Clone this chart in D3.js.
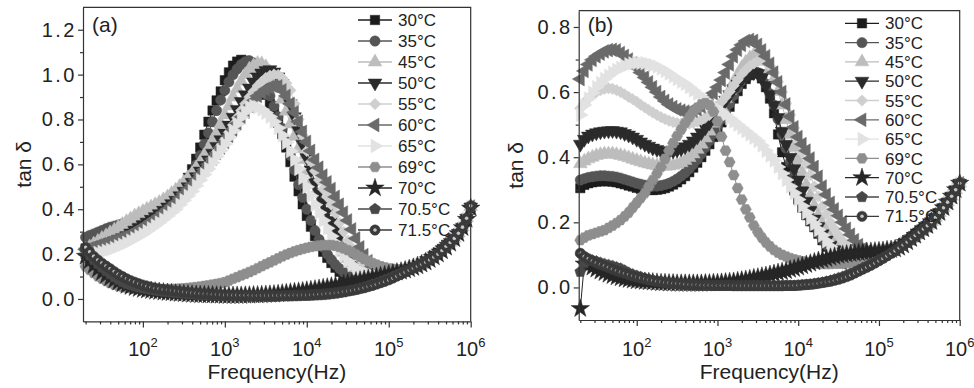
<!DOCTYPE html>
<html>
<head>
<meta charset="utf-8">
<script src="https://cdn.jsdelivr.net/npm/d3@7"></script>
<style>
  body { margin: 0; background: #fff; }
  text { font-family: "Liberation Sans", Arial, sans-serif; fill: #222; }
</style>
</head>
<body>
<svg id="chart" width="974" height="388"></svg>
<script>
// measurement frequencies (Hz), shared by every curve
const freq = [20.0, 22.4, 25.1, 28.2, 31.6, 35.5, 39.8, 44.7, 50.1, 56.2, 63.1, 70.8, 79.4, 89.1,
  100, 112, 126, 141, 158, 178, 200, 224, 251, 282, 316, 355, 398, 447, 501, 562, 631, 708, 794, 891,
  1000, 1122, 1259, 1413, 1585, 1778, 1995, 2239, 2512, 2818, 3162, 3548, 3981, 4467, 5012, 5623, 6310, 7079, 7943, 8913,
  10000, 11220, 12590, 14130, 15850, 17780, 19950, 22390, 25120, 28180, 31620, 35480, 39810, 44670, 50120, 56230, 63100, 70790, 79430, 89130,
  100000, 112200, 125900, 141300, 158500, 177800, 199500, 223900, 251200, 281800, 316200, 354800, 398100, 446700, 501200, 562300, 631000, 707900, 794300, 891300,
  1000000];

const temps = ['30°C', '35°C', '45°C', '50°C', '55°C', '60°C', '65°C', '69°C', '70°C', '70.5°C', '71.5°C'];

// panel (a)
const a30 = [0.225,0.232,0.240,0.248,0.256,0.264,0.272,0.281,0.290,0.300,
  0.310,0.320,0.331,0.342,0.353,0.364,0.376,0.388,0.400,0.413,
  0.427,0.443,0.460,0.482,0.508,0.540,0.578,0.625,0.675,0.732,
  0.790,0.840,0.885,0.925,0.975,1.010,1.040,1.058,1.066,1.062,
  1.050,1.025,0.990,0.950,0.910,0.870,0.830,0.785,0.735,0.675,
  0.610,0.545,0.480,0.422,0.370,0.322,0.280,0.243,0.210,0.183,
  0.160,0.139,0.121,0.107,0.096,0.087,0.080,0.075,0.072,0.071,
  0.072,0.076,0.082,0.090,0.097,0.107,0.115,0.122,0.130,0.137,
  0.145,0.152,0.160,0.170,0.180,0.192,0.205,0.220,0.235,0.252,
  0.270,0.293,0.320,0.360,0.410];
const a35 = [0.275,0.283,0.290,0.298,0.305,0.313,0.320,0.325,0.330,0.335,
  0.340,0.345,0.350,0.355,0.360,0.367,0.375,0.385,0.395,0.407,
  0.420,0.437,0.455,0.477,0.500,0.528,0.560,0.598,0.640,0.690,
  0.740,0.790,0.840,0.887,0.930,0.968,1.000,1.025,1.045,1.058,
  1.062,1.052,1.028,0.992,0.950,0.905,0.860,0.812,0.760,0.702,
  0.640,0.575,0.510,0.453,0.400,0.350,0.305,0.265,0.230,0.200,
  0.175,0.153,0.135,0.119,0.105,0.095,0.088,0.083,0.080,0.079,
  0.080,0.083,0.087,0.092,0.098,0.107,0.115,0.122,0.130,0.137,
  0.145,0.152,0.160,0.170,0.180,0.192,0.205,0.220,0.235,0.252,
  0.270,0.293,0.320,0.360,0.410];
const a45 = [0.220,0.232,0.245,0.257,0.270,0.282,0.295,0.307,0.320,0.332,
  0.345,0.357,0.370,0.380,0.390,0.400,0.410,0.420,0.430,0.442,
  0.455,0.470,0.485,0.502,0.520,0.540,0.560,0.585,0.610,0.640,
  0.670,0.705,0.740,0.780,0.820,0.860,0.900,0.937,0.970,1.000,
  1.025,1.040,1.050,1.048,1.035,1.012,0.980,0.938,0.890,0.837,
  0.780,0.725,0.670,0.620,0.570,0.520,0.470,0.430,0.390,0.350,
  0.310,0.275,0.240,0.208,0.180,0.158,0.140,0.126,0.115,0.109,
  0.105,0.104,0.105,0.106,0.108,0.111,0.117,0.124,0.131,0.138,
  0.146,0.153,0.161,0.171,0.181,0.193,0.206,0.221,0.236,0.253,
  0.271,0.294,0.321,0.361,0.412];
const a50 = [0.210,0.217,0.224,0.231,0.238,0.245,0.252,0.259,0.266,0.273,
  0.280,0.292,0.305,0.317,0.330,0.342,0.355,0.367,0.380,0.395,
  0.410,0.425,0.440,0.460,0.480,0.500,0.520,0.545,0.570,0.595,
  0.620,0.650,0.680,0.710,0.740,0.775,0.810,0.845,0.880,0.910,
  0.940,0.967,0.990,1.007,1.018,1.022,1.012,0.990,0.960,0.920,
  0.870,0.812,0.750,0.690,0.630,0.575,0.520,0.475,0.430,0.390,
  0.350,0.315,0.280,0.245,0.210,0.183,0.160,0.143,0.130,0.119,
  0.110,0.106,0.104,0.103,0.104,0.108,0.115,0.122,0.130,0.137,
  0.145,0.152,0.160,0.170,0.180,0.192,0.205,0.220,0.235,0.252,
  0.270,0.293,0.320,0.360,0.410];
const a55 = [0.200,0.207,0.214,0.221,0.228,0.235,0.242,0.249,0.256,0.263,
  0.270,0.280,0.290,0.300,0.310,0.322,0.335,0.347,0.360,0.375,
  0.390,0.405,0.420,0.440,0.460,0.480,0.500,0.525,0.550,0.575,
  0.600,0.627,0.655,0.682,0.710,0.742,0.775,0.808,0.840,0.870,
  0.900,0.925,0.950,0.968,0.985,0.995,1.000,0.998,0.985,0.962,
  0.930,0.870,0.800,0.728,0.660,0.612,0.570,0.530,0.490,0.455,
  0.420,0.382,0.340,0.300,0.260,0.228,0.200,0.176,0.155,0.138,
  0.125,0.116,0.110,0.108,0.107,0.110,0.116,0.123,0.131,0.138,
  0.146,0.153,0.161,0.171,0.181,0.193,0.206,0.221,0.236,0.253,
  0.271,0.294,0.321,0.361,0.412];
const a60 = [0.220,0.226,0.232,0.238,0.244,0.250,0.256,0.262,0.268,0.274,
  0.280,0.290,0.300,0.310,0.320,0.332,0.345,0.357,0.370,0.385,
  0.400,0.415,0.430,0.450,0.470,0.490,0.510,0.532,0.555,0.577,
  0.600,0.625,0.650,0.675,0.700,0.727,0.755,0.782,0.810,0.835,
  0.860,0.883,0.905,0.920,0.935,0.944,0.950,0.948,0.930,0.905,
  0.870,0.832,0.790,0.745,0.700,0.660,0.620,0.585,0.550,0.520,
  0.490,0.455,0.420,0.385,0.350,0.310,0.270,0.230,0.195,0.168,
  0.145,0.130,0.120,0.114,0.110,0.112,0.117,0.124,0.132,0.139,
  0.146,0.153,0.161,0.171,0.181,0.193,0.206,0.221,0.236,0.253,
  0.271,0.294,0.321,0.361,0.412];
const a65 = [0.190,0.195,0.200,0.205,0.210,0.215,0.220,0.227,0.235,0.242,
  0.250,0.260,0.270,0.280,0.290,0.302,0.315,0.327,0.340,0.355,
  0.370,0.385,0.400,0.420,0.440,0.460,0.480,0.505,0.530,0.555,
  0.580,0.607,0.635,0.662,0.690,0.720,0.750,0.780,0.810,0.835,
  0.855,0.860,0.855,0.845,0.830,0.812,0.790,0.762,0.730,0.697,
  0.660,0.620,0.580,0.540,0.500,0.460,0.420,0.385,0.350,0.315,
  0.280,0.250,0.220,0.195,0.170,0.152,0.135,0.125,0.115,0.110,
  0.105,0.103,0.102,0.102,0.103,0.107,0.115,0.122,0.130,0.137,
  0.145,0.152,0.160,0.170,0.180,0.192,0.205,0.220,0.235,0.252,
  0.270,0.293,0.320,0.360,0.410];
const a69 = [0.145,0.130,0.115,0.101,0.090,0.080,0.071,0.064,0.058,0.054,
  0.050,0.048,0.046,0.045,0.044,0.044,0.043,0.043,0.043,0.043,
  0.044,0.044,0.045,0.046,0.047,0.049,0.051,0.053,0.055,0.058,
  0.061,0.064,0.067,0.071,0.075,0.082,0.090,0.097,0.105,0.112,
  0.120,0.128,0.137,0.146,0.155,0.163,0.172,0.181,0.190,0.198,
  0.205,0.212,0.218,0.223,0.228,0.232,0.235,0.238,0.240,0.240,
  0.240,0.237,0.232,0.225,0.218,0.208,0.198,0.188,0.178,0.169,
  0.160,0.153,0.146,0.141,0.137,0.134,0.132,0.131,0.132,0.134,
  0.138,0.143,0.150,0.159,0.170,0.182,0.196,0.211,0.228,0.246,
  0.266,0.290,0.318,0.355,0.405];
const a70 = [0.190,0.170,0.150,0.133,0.118,0.105,0.094,0.084,0.075,0.067,
  0.060,0.055,0.050,0.046,0.042,0.039,0.037,0.034,0.032,0.030,
  0.028,0.027,0.025,0.024,0.023,0.021,0.020,0.019,0.018,0.018,
  0.017,0.017,0.016,0.016,0.015,0.015,0.015,0.015,0.015,0.016,
  0.016,0.017,0.017,0.018,0.019,0.020,0.021,0.023,0.025,0.027,
  0.029,0.031,0.033,0.035,0.038,0.040,0.043,0.046,0.049,0.052,
  0.056,0.059,0.063,0.067,0.071,0.075,0.079,0.083,0.087,0.091,
  0.095,0.099,0.103,0.107,0.111,0.115,0.119,0.123,0.128,0.134,
  0.140,0.147,0.155,0.164,0.175,0.187,0.200,0.214,0.230,0.248,
  0.268,0.291,0.318,0.355,0.405];
const a705 = [0.215,0.195,0.175,0.157,0.140,0.124,0.110,0.097,0.086,0.076,
  0.068,0.062,0.056,0.051,0.047,0.044,0.041,0.038,0.035,0.033,
  0.031,0.029,0.027,0.025,0.024,0.022,0.021,0.020,0.019,0.018,
  0.017,0.016,0.015,0.015,0.014,0.013,0.013,0.012,0.012,0.012,
  0.011,0.011,0.011,0.011,0.011,0.011,0.011,0.011,0.012,0.012,
  0.012,0.013,0.013,0.014,0.014,0.015,0.016,0.017,0.018,0.020,
  0.022,0.024,0.027,0.030,0.034,0.038,0.042,0.047,0.052,0.058,
  0.064,0.070,0.077,0.084,0.091,0.099,0.107,0.115,0.123,0.131,
  0.139,0.148,0.157,0.167,0.178,0.190,0.203,0.217,0.233,0.250,
  0.270,0.293,0.320,0.358,0.410];
const a715 = [0.230,0.210,0.190,0.174,0.160,0.147,0.135,0.122,0.110,0.100,
  0.090,0.082,0.075,0.068,0.062,0.057,0.052,0.048,0.045,0.042,
  0.040,0.037,0.035,0.033,0.031,0.029,0.027,0.026,0.024,0.023,
  0.022,0.021,0.020,0.019,0.018,0.018,0.017,0.017,0.016,0.016,
  0.016,0.015,0.015,0.015,0.015,0.015,0.015,0.015,0.016,0.016,
  0.016,0.017,0.017,0.018,0.018,0.019,0.020,0.021,0.022,0.024,
  0.026,0.028,0.030,0.033,0.036,0.039,0.042,0.046,0.050,0.055,
  0.060,0.066,0.072,0.078,0.085,0.093,0.102,0.111,0.120,0.129,
  0.138,0.147,0.156,0.165,0.175,0.187,0.200,0.216,0.235,0.252,
  0.270,0.293,0.320,0.360,0.415];

// panel (b)
const b30 = [0.305,0.315,0.320,0.323,0.325,0.326,0.326,0.326,0.325,0.323,
  0.320,0.317,0.313,0.310,0.306,0.303,0.301,0.300,0.299,0.300,
  0.302,0.305,0.310,0.316,0.323,0.332,0.342,0.354,0.368,0.383,
  0.400,0.420,0.440,0.462,0.485,0.507,0.530,0.555,0.580,0.603,
  0.625,0.640,0.652,0.660,0.657,0.642,0.615,0.580,0.535,0.470,
  0.415,0.370,0.332,0.298,0.270,0.245,0.222,0.203,0.185,0.165,
  0.145,0.125,0.107,0.093,0.082,0.076,0.072,0.069,0.068,0.069,
  0.072,0.076,0.082,0.088,0.095,0.105,0.110,0.115,0.120,0.127,
  0.135,0.142,0.150,0.160,0.170,0.180,0.190,0.202,0.215,0.230,
  0.245,0.262,0.280,0.300,0.320];
const b35 = [0.330,0.334,0.338,0.340,0.342,0.343,0.343,0.342,0.341,0.339,
  0.336,0.332,0.328,0.324,0.320,0.317,0.314,0.312,0.311,0.311,
  0.313,0.316,0.320,0.326,0.333,0.342,0.352,0.364,0.378,0.393,
  0.410,0.430,0.450,0.472,0.495,0.517,0.540,0.565,0.590,0.613,
  0.635,0.650,0.660,0.665,0.660,0.647,0.625,0.595,0.560,0.517,
  0.470,0.427,0.385,0.346,0.310,0.276,0.245,0.217,0.190,0.168,
  0.148,0.130,0.115,0.102,0.092,0.084,0.078,0.074,0.072,0.072,
  0.074,0.078,0.083,0.089,0.095,0.105,0.110,0.115,0.120,0.127,
  0.135,0.142,0.150,0.160,0.170,0.180,0.190,0.202,0.215,0.230,
  0.245,0.262,0.280,0.300,0.320];
const b45 = [0.380,0.388,0.395,0.400,0.405,0.408,0.410,0.410,0.410,0.408,
  0.405,0.402,0.398,0.394,0.390,0.386,0.382,0.379,0.376,0.374,
  0.373,0.372,0.373,0.375,0.378,0.383,0.390,0.399,0.410,0.424,
  0.440,0.459,0.480,0.504,0.530,0.555,0.580,0.605,0.630,0.653,
  0.675,0.692,0.705,0.714,0.718,0.712,0.695,0.670,0.640,0.602,
  0.560,0.515,0.470,0.430,0.390,0.352,0.315,0.282,0.250,0.222,
  0.195,0.172,0.152,0.135,0.120,0.108,0.098,0.091,0.085,0.082,
  0.080,0.081,0.084,0.089,0.095,0.105,0.110,0.115,0.120,0.127,
  0.135,0.142,0.150,0.160,0.170,0.180,0.190,0.202,0.215,0.230,
  0.245,0.262,0.280,0.300,0.320];
const b50 = [0.440,0.455,0.465,0.471,0.475,0.478,0.480,0.481,0.482,0.480,
  0.478,0.473,0.468,0.462,0.455,0.447,0.440,0.434,0.428,0.424,
  0.420,0.418,0.418,0.419,0.422,0.426,0.432,0.440,0.450,0.462,
  0.475,0.490,0.505,0.522,0.540,0.557,0.575,0.592,0.610,0.625,
  0.640,0.649,0.655,0.660,0.657,0.645,0.620,0.592,0.560,0.522,
  0.480,0.440,0.400,0.365,0.330,0.297,0.265,0.237,0.210,0.187,
  0.165,0.146,0.130,0.116,0.105,0.096,0.088,0.083,0.080,0.079,
  0.079,0.081,0.085,0.090,0.095,0.105,0.110,0.115,0.120,0.127,
  0.135,0.142,0.150,0.160,0.170,0.180,0.190,0.202,0.215,0.230,
  0.245,0.262,0.280,0.300,0.320];
const b55 = [0.550,0.566,0.580,0.591,0.600,0.606,0.610,0.612,0.610,0.606,
  0.600,0.593,0.585,0.578,0.570,0.561,0.553,0.545,0.537,0.530,
  0.523,0.517,0.512,0.508,0.505,0.503,0.502,0.503,0.505,0.509,
  0.515,0.522,0.530,0.542,0.555,0.570,0.585,0.602,0.620,0.638,
  0.655,0.668,0.680,0.688,0.695,0.698,0.692,0.680,0.660,0.632,
  0.600,0.565,0.530,0.490,0.450,0.415,0.380,0.345,0.310,0.280,
  0.250,0.225,0.200,0.180,0.160,0.143,0.128,0.116,0.105,0.098,
  0.092,0.090,0.090,0.092,0.096,0.105,0.110,0.115,0.120,0.127,
  0.135,0.142,0.150,0.160,0.170,0.180,0.190,0.202,0.215,0.230,
  0.245,0.262,0.280,0.300,0.320];
const b60 = [0.640,0.665,0.685,0.699,0.710,0.718,0.725,0.729,0.730,0.728,
  0.720,0.711,0.700,0.688,0.675,0.660,0.645,0.630,0.615,0.600,
  0.585,0.573,0.562,0.554,0.547,0.543,0.540,0.540,0.543,0.548,
  0.556,0.567,0.580,0.597,0.615,0.637,0.660,0.685,0.710,0.730,
  0.745,0.757,0.760,0.757,0.745,0.728,0.710,0.687,0.660,0.630,
  0.600,0.562,0.525,0.492,0.462,0.440,0.420,0.396,0.370,0.340,
  0.310,0.285,0.260,0.240,0.220,0.200,0.180,0.162,0.145,0.130,
  0.118,0.110,0.104,0.101,0.100,0.105,0.110,0.115,0.120,0.127,
  0.135,0.142,0.150,0.160,0.170,0.180,0.190,0.202,0.215,0.230,
  0.245,0.262,0.280,0.300,0.320];
const b65 = [0.530,0.560,0.580,0.598,0.615,0.628,0.640,0.650,0.660,0.668,
  0.675,0.680,0.685,0.688,0.690,0.690,0.689,0.686,0.683,0.678,
  0.672,0.665,0.657,0.648,0.640,0.632,0.625,0.615,0.605,0.595,
  0.585,0.575,0.565,0.556,0.548,0.539,0.530,0.520,0.510,0.500,
  0.490,0.480,0.470,0.460,0.450,0.436,0.420,0.405,0.390,0.370,
  0.350,0.330,0.310,0.290,0.270,0.250,0.230,0.212,0.195,0.177,
  0.160,0.142,0.125,0.109,0.095,0.086,0.078,0.074,0.072,0.071,
  0.072,0.075,0.080,0.086,0.092,0.100,0.107,0.113,0.119,0.126,
  0.135,0.142,0.150,0.160,0.170,0.180,0.190,0.202,0.215,0.230,
  0.245,0.262,0.280,0.300,0.320];
const b69 = [0.145,0.153,0.160,0.164,0.168,0.172,0.176,0.183,0.190,0.198,
  0.207,0.218,0.230,0.245,0.260,0.275,0.290,0.310,0.330,0.350,
  0.370,0.395,0.420,0.443,0.465,0.485,0.505,0.523,0.540,0.552,
  0.562,0.566,0.560,0.540,0.510,0.463,0.420,0.385,0.345,0.305,
  0.270,0.240,0.215,0.190,0.170,0.153,0.138,0.126,0.115,0.107,
  0.100,0.095,0.090,0.086,0.083,0.080,0.078,0.076,0.074,0.073,
  0.072,0.072,0.072,0.073,0.073,0.074,0.075,0.077,0.078,0.080,
  0.082,0.085,0.088,0.091,0.095,0.102,0.108,0.114,0.120,0.127,
  0.135,0.142,0.150,0.160,0.170,0.180,0.190,0.202,0.215,0.230,
  0.245,0.262,0.280,0.300,0.320];
const b70 = [-0.065,0.072,0.068,0.062,0.056,0.050,0.045,0.040,0.036,0.032,
  0.029,0.026,0.024,0.022,0.020,0.019,0.018,0.017,0.016,0.015,
  0.014,0.014,0.013,0.013,0.012,0.012,0.012,0.012,0.012,0.012,
  0.012,0.013,0.013,0.014,0.014,0.015,0.016,0.017,0.018,0.020,
  0.022,0.024,0.026,0.029,0.031,0.034,0.036,0.039,0.042,0.045,
  0.048,0.051,0.055,0.058,0.062,0.066,0.070,0.074,0.078,0.082,
  0.085,0.088,0.092,0.095,0.098,0.100,0.102,0.104,0.105,0.107,
  0.108,0.109,0.110,0.111,0.112,0.113,0.115,0.116,0.118,0.123,
  0.130,0.140,0.150,0.160,0.170,0.180,0.190,0.202,0.215,0.230,
  0.245,0.262,0.280,0.300,0.320];
const b705 = [0.048,0.075,0.085,0.083,0.080,0.076,0.072,0.069,0.066,0.062,
  0.058,0.052,0.045,0.040,0.036,0.032,0.028,0.025,0.022,0.019,
  0.017,0.015,0.013,0.011,0.010,0.009,0.008,0.007,0.007,0.006,
  0.006,0.006,0.005,0.005,0.005,0.005,0.005,0.005,0.005,0.005,
  0.005,0.005,0.005,0.005,0.005,0.005,0.005,0.005,0.005,0.005,
  0.005,0.005,0.005,0.005,0.006,0.007,0.008,0.009,0.011,0.013,
  0.015,0.018,0.021,0.025,0.029,0.033,0.038,0.043,0.048,0.054,
  0.060,0.066,0.072,0.078,0.085,0.091,0.098,0.105,0.112,0.120,
  0.128,0.137,0.146,0.156,0.166,0.177,0.188,0.200,0.213,0.228,
  0.244,0.261,0.280,0.300,0.322];
const b715 = [0.105,0.095,0.088,0.081,0.075,0.070,0.066,0.061,0.056,0.051,
  0.047,0.043,0.039,0.035,0.032,0.029,0.026,0.023,0.021,0.019,
  0.017,0.015,0.014,0.013,0.012,0.011,0.010,0.009,0.008,0.008,
  0.007,0.007,0.007,0.006,0.006,0.006,0.006,0.006,0.005,0.005,
  0.005,0.005,0.005,0.005,0.005,0.005,0.005,0.005,0.005,0.005,
  0.005,0.006,0.006,0.006,0.007,0.008,0.009,0.010,0.011,0.013,
  0.015,0.017,0.019,0.022,0.025,0.029,0.033,0.038,0.044,0.050,
  0.056,0.062,0.068,0.075,0.082,0.089,0.097,0.105,0.113,0.122,
  0.131,0.140,0.150,0.160,0.170,0.180,0.190,0.202,0.215,0.230,
  0.245,0.262,0.280,0.300,0.320];

const yTicksA = [0, 0.2, 0.4, 0.6, 0.8, 1.0, 1.2];
const yTicksB = [0, 0.2, 0.4, 0.6, 0.8];
const xTicks = [1e2, 1e3, 1e4, 1e5, 1e6];

// styling per temperature (same order as temps)
const colors = ['#1c1c1c', '#555555', '#bdbdbd', '#2b2b2b', '#cfcfcf', '#6a6a6a', '#e2e2e2', '#8e8e8e', '#262626', '#474747', '#3a3a3a'];
const shapes = ['square', 'circle', 'up', 'down', 'diamond', 'left', 'right', 'hexagon', 'star', 'pentagon', 'sphere'];

const panels = [
  { tag: '(a)', series: [a30, a35, a45, a50, a55, a60, a65, a69, a70, a705, a715],
    left: 83, right: 470.7, top: 7.3, bottom: 321.4, xDom: [18.6, 1e6], yDom: [-0.1, 1.3], yTicks: yTicksA,
    legendX: 358, legendY: 20, legendDy: 21, yTitleX: 24 },
  { tag: '(b)', series: [b30, b35, b45, b50, b55, b60, b65, b69, b70, b705, b715],
    left: 578.7, right: 959.7, top: 10.7, bottom: 320, xDom: [19.1, 1e6], yDom: [-0.1, 0.85], yTicks: yTicksB,
    legendX: 845, legendY: 23.3, legendDy: 19.3, yTitleX: 516 }
];

const svg = d3.select('#chart');

function poly(n, r, startDeg) {
  const pts = d3.range(n).map(i => {
    const a = (startDeg + i * 360 / n) * Math.PI / 180;
    return [r * Math.cos(a), r * Math.sin(a)];
  });
  return 'M' + pts.map(p => p.join(',')).join('L') + 'Z';
}

function symbolPath(shape) {
  switch (shape) {
    case 'square': return d3.symbol(d3.symbolSquare, 88)();
    case 'circle':
    case 'sphere': return d3.symbol(d3.symbolCircle, 84)();
    case 'diamond': return d3.symbol(d3.symbolSquare, 66)();
    case 'star': return d3.symbol(d3.symbolStar, 105)();
    case 'hexagon': return poly(6, 5.6, 0);
    case 'pentagon': return poly(5, 5.8, -90);
    default: return d3.symbol(d3.symbolTriangle, 82)();
  }
}
const rotation = { down: 180, left: -90, right: 90, diamond: 45 };

function drawMarker(g, shape, color, x, y) {
  g.append('path')
    .attr('d', symbolPath(shape))
    .attr('transform', `translate(${x},${y}) rotate(${rotation[shape] || 0})`)
    .attr('fill', color)
    .attr('stroke', color)
    .attr('stroke-width', 0.5);
  if (shape === 'sphere') {
    g.append('circle').attr('cx', x).attr('cy', y).attr('r', 1.8).attr('fill', '#c4c4c4');
  }
}

panels.forEach(p => {
  const x = d3.scaleLog().domain(p.xDom).range([p.left, p.right]);
  const y = d3.scaleLinear().domain(p.yDom).range([p.bottom, p.top]);
  const g = svg.append('g');

  // curves
  p.series.forEach((vals, k) => {
    const pts = d3.zip(freq, vals);
    const sg = g.append('g');
    sg.append('path')
      .datum(pts)
      .attr('fill', 'none')
      .attr('stroke', colors[k])
      .attr('stroke-width', 1)
      .attr('d', d3.line().x(d => x(d[0])).y(d => y(d[1])));
    pts.forEach(d => drawMarker(sg, shapes[k], colors[k], x(d[0]), y(d[1])));
  });

  // frame
  g.append('path')
    .attr('d', `M${p.left},${p.top}H${p.right}V${p.bottom}`)
    .attr('fill', 'none').attr('stroke', '#333').attr('stroke-width', 1.2);

  // x axis
  const minors = [];
  [10, 100, 1000, 10000, 100000].forEach(dec => {
    for (let m = 2; m <= 9; m++) if (dec * m >= p.xDom[0]) minors.push(dec * m);
  });
  const xa = g.append('g').attr('transform', `translate(0,${p.bottom})`);
  xa.call(d3.axisBottom(x).tickValues(xTicks).tickSize(6).tickSizeOuter(0).tickFormat(''));
  xa.append('g').call(d3.axisBottom(x).tickValues(minors).tickSize(3).tickFormat(''))
    .select('.domain').remove();
  xa.selectAll('path, line').attr('stroke', '#333').attr('stroke-width', 1.2);
  xTicks.forEach(v => {
    const t = g.append('text')
      .attr('x', x(v)).attr('y', 356)
      .attr('text-anchor', 'middle')
      .attr('font-size', 20);
    t.append('tspan').text('10');
    t.append('tspan').attr('dy', -9).attr('font-size', 13).text(Math.round(Math.log10(v)));
  });

  // y axis
  const yMinor = p.yTicks.map(v => v + 0.1).filter(v => v < p.yDom[1]);
  const ya = g.append('g').attr('transform', `translate(${p.left},0)`);
  ya.call(d3.axisLeft(y).tickValues(p.yTicks).tickSize(5).tickSizeOuter(0).tickPadding(1).tickFormat(d3.format('.1f')));
  ya.append('g').call(d3.axisLeft(y).tickValues(yMinor).tickSize(3).tickFormat(''))
    .select('.domain').remove();
  ya.selectAll('path, line').attr('stroke', '#333').attr('stroke-width', 1.2);
  ya.selectAll('text')
    .attr('font-size', 20)
    .attr('letter-spacing', 2.5)
    .attr('font-family', '"Liberation Sans", Arial, sans-serif')
    .attr('fill', '#222');

  // titles
  g.append('text')
    .attr('x', (p.left + p.right) / 2).attr('y', 379)
    .attr('text-anchor', 'middle').attr('font-size', 21)
    .text('Frequency(Hz)');
  g.append('text')
    .attr('transform', `translate(${p.yTitleX},${(p.top + p.bottom) / 2}) rotate(-90)`)
    .attr('text-anchor', 'middle').attr('dy', '0.35em').attr('font-size', 21)
    .text('tan δ');
  g.append('text')
    .attr('x', p.left + 9).attr('y', 32)
    .attr('font-size', 21)
    .text(p.tag);

  // legend
  temps.forEach((name, k) => {
    const ly = p.legendY + k * p.legendDy;
    const lg = g.append('g');
    lg.append('line')
      .attr('x1', p.legendX).attr('x2', p.legendX + 34)
      .attr('y1', ly).attr('y2', ly)
      .attr('stroke', colors[k]).attr('stroke-width', 1.3);
    drawMarker(lg, shapes[k], colors[k], p.legendX + 17, ly);
    lg.append('text')
      .attr('x', p.legendX + 40).attr('y', ly).attr('dy', '0.36em')
      .attr('font-size', 17)
      .text(name);
  });
});
</script>
</body>
</html>
